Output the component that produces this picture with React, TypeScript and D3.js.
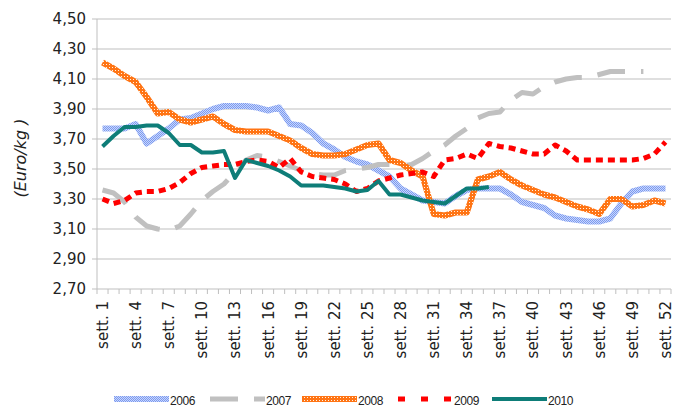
import * as d3 from 'd3';

const weeks = d3.range(1, 53);

const tickWeeks = [1, 4, 7, 10, 13, 16, 19, 22, 25, 28, 31, 34, 37, 40, 43, 46, 49, 52];
const yTicks = [2.7, 2.9, 3.1, 3.3, 3.5, 3.7, 3.9, 4.1, 4.3, 4.5];

const s2006 = [3.77, 3.77, 3.77, 3.8, 3.67, 3.72, 3.77, 3.83, 3.84, 3.87, 3.9, 3.92, 3.92, 3.92, 3.91, 3.89, 3.91, 3.8, 3.79, 3.74, 3.67, 3.63, 3.58, 3.55, 3.53, 3.49, 3.45, 3.37, 3.33, 3.29, 3.28, 3.27, 3.32, 3.36, 3.37, 3.37, 3.37, 3.33, 3.28, 3.26, 3.24, 3.19, 3.17, 3.16, 3.15, 3.15, 3.17, 3.27, 3.35, 3.37, 3.37, 3.37];
const s2007 = [3.36, 3.34, 3.28, 3.18, 3.12, 3.1, 3.09, 3.12, 3.2, 3.29, 3.35, 3.4, 3.48, 3.56, 3.59, 3.58, 3.55, 3.52, 3.49, 3.47, 3.46, 3.46, 3.49, 3.5, 3.51, 3.53, 3.53, 3.52, 3.53, 3.57, 3.62, 3.66, 3.72, 3.77, 3.84, 3.87, 3.88, 3.96, 4.01, 4.0, 4.05, 4.08, 4.1, 4.11, 4.11, 4.13, 4.15, 4.15, 4.15, 4.15];
const s2008 = [4.21, 4.17, 4.12, 4.08, 3.98, 3.87, 3.88, 3.83, 3.81, 3.83, 3.85, 3.8, 3.76, 3.75, 3.75, 3.75, 3.72, 3.69, 3.64, 3.6, 3.59, 3.59, 3.6, 3.63, 3.66, 3.67, 3.56, 3.54, 3.49, 3.45, 3.2, 3.19, 3.21, 3.21, 3.43, 3.45, 3.48, 3.43, 3.39, 3.36, 3.33, 3.31, 3.28, 3.25, 3.23, 3.2, 3.3, 3.3, 3.25, 3.26, 3.29, 3.27];
const s2009 = [3.3, 3.27, 3.29, 3.34, 3.35, 3.35, 3.37, 3.41, 3.47, 3.51, 3.52, 3.53, 3.53, 3.55, 3.56, 3.55, 3.51, 3.57, 3.48, 3.45, 3.44, 3.43, 3.4, 3.35, 3.37, 3.42, 3.44, 3.46, 3.47, 3.48, 3.45, 3.56, 3.57, 3.6, 3.57, 3.67, 3.65, 3.64, 3.62, 3.6, 3.6, 3.66, 3.62, 3.56, 3.56, 3.56, 3.56, 3.56, 3.56, 3.57, 3.6, 3.68];
const s2010 = [3.65, 3.72, 3.78, 3.78, 3.79, 3.79, 3.74, 3.66, 3.66, 3.61, 3.61, 3.62, 3.44, 3.56, 3.54, 3.52, 3.49, 3.45, 3.39, 3.39, 3.39, 3.38, 3.37, 3.35, 3.36, 3.42, 3.33, 3.33, 3.31, 3.29, 3.28, 3.27, 3.32, 3.37, 3.37, 3.38];

const seriesNames = ['2006', '2007', '2008', '2009', '2010'];

const styles: Record<string, { stroke: string; width: number; dash?: string; legendDash?: string }> = {
  '2006': { stroke: 'url(#p2006)', width: 6 },
  '2007': { stroke: '#c0c0c0', width: 5, dash: '28,16', legendDash: '28,16' },
  '2008': { stroke: 'url(#p2008)', width: 6 },
  '2009': { stroke: '#ff0000', width: 5, dash: '7,5', legendDash: '7,16' },
  '2010': { stroke: '#0e7d78', width: 4 },
};

const legendX = [114, 210, 302, 398, 492];

export default function App() {
  const width = 677;
  const height = 408;
  const left = 97, right = 671, top = 19, bottom = 289;

  const x = d3.scaleBand<number>().domain(weeks).range([left, right]).padding(0);
  const cx = (w: number) => (x(w) ?? 0) + x.bandwidth() / 2;
  const y = d3.scaleLinear().domain([2.7, 4.5]).range([bottom, top]);
  const fmt = (v: number) => d3.format('.2f')(v).replace('.', ',');

  const line = d3.line<number>()
    .x((d, i) => cx(weeks[i]))
    .y(d => y(d));

  const data: Record<string, number[]> = { '2006': s2006, '2007': s2007, '2008': s2008, '2009': s2009, '2010': s2010 };

  return (
    <svg width={width} height={height} style={{ position: 'absolute', left: 0, top: 0, background: '#fff' }}>
      <defs>
        <pattern id="p2006" width="2" height="2" patternUnits="userSpaceOnUse">
          <rect width="2" height="2" fill="#c9d6fb" />
          <rect width="1" height="1" fill="#7b9af0" />
          <rect x="1" y="1" width="1" height="1" fill="#7b9af0" />
        </pattern>
        <pattern id="p2008" width="3" height="3" patternUnits="userSpaceOnUse">
          <rect width="3" height="3" fill="#ff7414" />
          <rect x="1" y="1" width="1" height="1" fill="#fff2e4" />
        </pattern>
      </defs>

      {/* gridlines */}
      {yTicks.map(t => (
        <g key={t}>
          <line x1={left} x2={right} y1={y(t)} y2={y(t)} stroke="#bfbfbf" strokeWidth={1} />
          <line x1={left - 5} x2={left} y1={y(t)} y2={y(t)} stroke="#bfbfbf" strokeWidth={1} />
          <text x={left - 11} y={y(t)} dy="0.36em" textAnchor="end" fontFamily="DejaVu Sans" fontSize={15} fill="#222">{fmt(t)}</text>
        </g>
      ))}
      <line x1={left} x2={left} y1={top} y2={bottom} stroke="#bfbfbf" strokeWidth={1} />

      {/* x ticks */}
      {weeks.concat([53]).map((w, i) => {
        const xx = left + i * x.bandwidth();
        return <line key={w} x1={xx} x2={xx} y1={bottom} y2={bottom + 5} stroke="#bfbfbf" strokeWidth={1} />;
      })}
      {tickWeeks.map(w => (
        <text key={w} transform={`translate(${cx(w)},${bottom + 12}) rotate(-90)`} dy="0.36em" textAnchor="end"
          fontFamily="DejaVu Sans" fontSize={15} fill="#222">{`sett. ${w}`}</text>
      ))}

      <text transform="translate(20,158) rotate(-90)" dy="0.36em" textAnchor="middle" fontFamily="DejaVu Sans" fontStyle="italic" fontSize={16} fill="#222">(Euro/kg )</text>

      {/* series */}
      {seriesNames.map(n => (
        <path key={n} d={line(data[n]) || ''} fill="none" stroke={styles[n].stroke} strokeWidth={styles[n].width}
          strokeDasharray={styles[n].dash} strokeLinejoin="round" />
      ))}

      {/* legend */}
      {seriesNames.map((n, i) => (
        <g key={n}>
          <line x1={legendX[i]} x2={legendX[i] + 55} y1={399} y2={399} stroke={styles[n].stroke} strokeWidth={styles[n].width}
            strokeDasharray={styles[n].legendDash} />
          <text x={legendX[i] + 56} y={405} fontFamily="Liberation Sans" fontSize={12} letterSpacing={-0.4} fill="#222">{n}</text>
        </g>
      ))}
    </svg>
  );
}
